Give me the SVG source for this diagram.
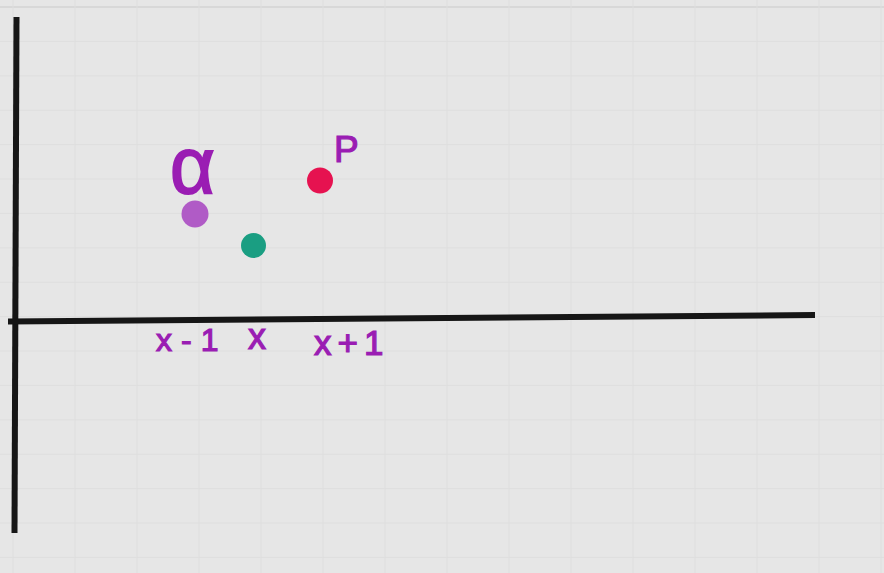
<svg xmlns="http://www.w3.org/2000/svg" width="884" height="573" viewBox="0 0 884 573">
<style>
.grid line{stroke:#dedede;stroke-width:1}
.axis{stroke:#161616;stroke-width:6;stroke-linecap:butt;fill:none}
.lbl{font-family:"Liberation Sans",Arial,sans-serif;fill:#9a1db3;stroke:#9a1db3;stroke-width:1.2}
</style>
<rect x="0" y="0" width="884" height="573" fill="#e6e6e6"/>
<g class="grid">
<line x1="0" y1="7" x2="884" y2="7" style="stroke:#d8d8d8;stroke-width:2"/>
<line x1="0" y1="41.4" x2="884" y2="41.4"/><line x1="0" y1="75.8" x2="884" y2="75.8"/><line x1="0" y1="110.2" x2="884" y2="110.2"/><line x1="0" y1="144.6" x2="884" y2="144.6"/><line x1="0" y1="179" x2="884" y2="179"/><line x1="0" y1="213.4" x2="884" y2="213.4"/><line x1="0" y1="247.8" x2="884" y2="247.8"/><line x1="0" y1="282.2" x2="884" y2="282.2"/><line x1="0" y1="316.6" x2="884" y2="316.6"/><line x1="0" y1="351" x2="884" y2="351"/><line x1="0" y1="385.4" x2="884" y2="385.4"/><line x1="0" y1="419.8" x2="884" y2="419.8"/><line x1="0" y1="454.2" x2="884" y2="454.2"/><line x1="0" y1="488.6" x2="884" y2="488.6"/><line x1="0" y1="523" x2="884" y2="523"/><line x1="0" y1="557.4" x2="884" y2="557.4"/>
<line x1="13" y1="0" x2="13" y2="573"/><line x1="75" y1="0" x2="75" y2="573"/><line x1="137" y1="0" x2="137" y2="573"/><line x1="199" y1="0" x2="199" y2="573"/><line x1="261" y1="0" x2="261" y2="573"/><line x1="323" y1="0" x2="323" y2="573"/><line x1="385" y1="0" x2="385" y2="573"/><line x1="447" y1="0" x2="447" y2="573"/><line x1="509" y1="0" x2="509" y2="573"/><line x1="571" y1="0" x2="571" y2="573"/><line x1="633" y1="0" x2="633" y2="573"/><line x1="695" y1="0" x2="695" y2="573"/><line x1="757" y1="0" x2="757" y2="573"/><line x1="819" y1="0" x2="819" y2="573"/><line x1="881" y1="0" x2="881" y2="573"/>
</g>
<g id="axes">
<line class="axis" x1="16.5" y1="17" x2="14.5" y2="533"/>
<line class="axis" x1="8" y1="321.5" x2="815" y2="315"/>
</g>
<g id="point-a">
<circle cx="195" cy="214" r="13.5" fill="#b05bc6"/>
<text class="lbl" font-size="50" stroke-width="2" transform="translate(170 193) scale(1.55 1.6)">α</text>
</g>
<g id="point-x">
<circle cx="253.5" cy="245.5" r="12.5" fill="#1a9e82"/>
</g>
<g id="point-p">
<circle cx="320" cy="180.5" r="13" fill="#e61250"/>
<text class="lbl" x="334" y="162" font-size="37" stroke-width="1.6">P</text>
</g>
<g id="labels">
<text class="lbl" x="156" y="351" font-size="32" letter-spacing="9" stroke-width="2">x-1</text>
<text class="lbl" x="248" y="349" font-size="36" stroke-width="2">x</text>
<text class="lbl" x="314" y="355" font-size="35" letter-spacing="6" stroke-width="2">x+1</text>
</g>
</svg>
